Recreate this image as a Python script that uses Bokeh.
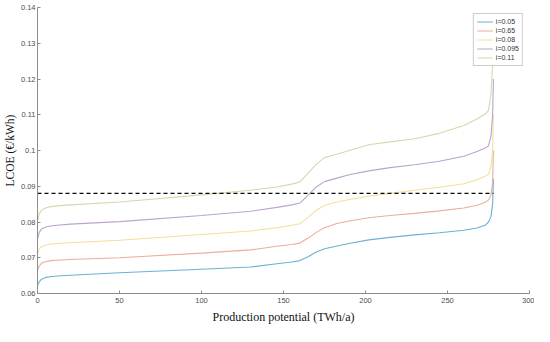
from bokeh.plotting import figure
from bokeh.embed import file_html
from bokeh.resources import INLINE
from bokeh.models import ColumnDataSource, FixedTicker, CustomJSTickFormatter, Legend, LegendItem, Range1d

# Data
production = [0, 1, 2, 3, 5, 8, 12, 20, 50, 100, 130, 146, 155, 160, 165, 170, 175, 182,
              190, 202, 215, 230, 245, 260, 268, 273, 275, 276.5, 277.5, 278]

lcoe_005 = [0.0622, 0.0632, 0.0638, 0.0641, 0.0645, 0.0647, 0.0649, 0.0651, 0.0658, 0.0668,
            0.0674, 0.0683, 0.0688, 0.0692, 0.0703, 0.0716, 0.0725, 0.0732, 0.0740, 0.0750,
            0.0757, 0.0764, 0.0770, 0.0777, 0.0783, 0.0791, 0.0800, 0.0815, 0.0850, 0.0920]
lcoe_065 = [0.0665, 0.0676, 0.0682, 0.0686, 0.0689, 0.0692, 0.0693, 0.0695, 0.0700, 0.0713,
            0.0722, 0.0732, 0.0737, 0.0741, 0.0755, 0.0771, 0.0784, 0.0795, 0.0803, 0.0812,
            0.0818, 0.0824, 0.0831, 0.0839, 0.0847, 0.0855, 0.0862, 0.0875, 0.0910, 0.1000]
lcoe_008 = [0.0712, 0.0724, 0.0729, 0.0732, 0.0735, 0.0738, 0.0740, 0.0742, 0.0749, 0.0765,
            0.0775, 0.0784, 0.0791, 0.0795, 0.0813, 0.0833, 0.0846, 0.0855, 0.0863, 0.0872,
            0.0880, 0.0889, 0.0897, 0.0907, 0.0918, 0.0928, 0.0934, 0.0955, 0.1000, 0.1100]
lcoe_0095 = [0.0752, 0.0770, 0.0778, 0.0782, 0.0786, 0.0789, 0.0791, 0.0794, 0.0801, 0.0818,
             0.0830, 0.0841, 0.0848, 0.0853, 0.0875, 0.0898, 0.0913, 0.0922, 0.0932, 0.0943,
             0.0952, 0.0960, 0.0970, 0.0984, 0.0997, 0.1007, 0.1013, 0.1040, 0.1100, 0.1200]
lcoe_011 = [0.0803, 0.0822, 0.0830, 0.0835, 0.0839, 0.0843, 0.0845, 0.0848, 0.0856, 0.0876,
            0.0889, 0.0898, 0.0906, 0.0912, 0.0937, 0.0962, 0.0980, 0.0989, 0.1000, 0.1016,
            0.1024, 0.1033, 0.1048, 0.1070, 0.1088, 0.1102, 0.1112, 0.1160, 0.1240, 0.1350]

series_labels = ["i=0.05", "i=0.65", "i=0.08", "i=0.095", "i=0.11"]
series_values = [lcoe_005, lcoe_065, lcoe_008, lcoe_0095, lcoe_011]
series_colors = ["#6db0d3", "#eaae9c", "#f2df9e", "#bba3cb", "#cfdcaa"]

threshold_x = [0, 278]
threshold_y = [0.088, 0.088]

x_ticks = [0, 50, 100, 150, 200, 250, 300]
y_ticks = [0.06, 0.07, 0.08, 0.09, 0.10, 0.11, 0.12, 0.13, 0.14]

p = figure(width=534, height=326, output_backend="svg", toolbar_location=None,
           x_range=Range1d(0, 300), y_range=Range1d(0.06, 0.14),
           min_border_top=7, min_border_right=5, min_border_left=10, min_border_bottom=5)
p.outline_line_color = None
p.xgrid.visible = False
p.ygrid.visible = False
p.background_fill_color = "white"

items = []
for lab, vals, col in zip(series_labels, series_values, series_colors):
    src = ColumnDataSource(dict(x=production, y=vals))
    r = p.line("x", "y", source=src, line_color=col, line_width=1.1)
    items.append(LegendItem(label=lab, renderers=[r]))

p.line(threshold_x, threshold_y, line_color="black", line_width=1.1, line_dash="4 3")

# Axes
for ax in (p.xaxis[0], p.yaxis[0]):
    ax.axis_line_color = "#8c8c8c"
    ax.major_tick_line_color = "#8c8c8c"
    ax.minor_tick_line_color = None
    ax.major_tick_in = 3
    ax.major_tick_out = 0
    ax.major_label_text_font = "Liberation Sans"
    ax.major_label_text_font_size = "7.5px"
    ax.major_label_text_color = "#4d4d4d"
    ax.axis_label_text_font = "Liberation Serif"
    ax.axis_label_text_font_style = "normal"
    ax.axis_label_text_color = "#111111"

p.xaxis.ticker = FixedTicker(ticks=x_ticks)
p.yaxis.ticker = FixedTicker(ticks=y_ticks)
p.yaxis.formatter = CustomJSTickFormatter(code="return Number(tick.toFixed(3)).toString();")

p.xaxis.axis_label = "Production potential (TWh/a)"
p.xaxis.axis_label_text_font_size = "12px"
p.xaxis.axis_label_standoff = 4
p.xaxis.major_label_standoff = 4

p.yaxis.axis_label = "LCOE (€/kWh)"
p.yaxis.axis_label_text_font_size = "11.5px"
p.yaxis.axis_label_standoff = 2
p.yaxis.major_label_standoff = 2

legend = Legend(items=items, location="top_right")
legend.label_text_font = "Liberation Sans"
legend.label_text_font_size = "7px"
legend.label_text_color = "#333333"
legend.glyph_width = 16
legend.glyph_height = 9
legend.label_height = 9
legend.label_standoff = 3
legend.spacing = 0
legend.padding = 3
legend.margin = 6
legend.border_line_color = "#999999"
legend.border_line_width = 1
legend.background_fill_color = "white"
legend.background_fill_alpha = 1.0
p.add_layout(legend)

open("out.html", "w").write(file_html(p, INLINE))
